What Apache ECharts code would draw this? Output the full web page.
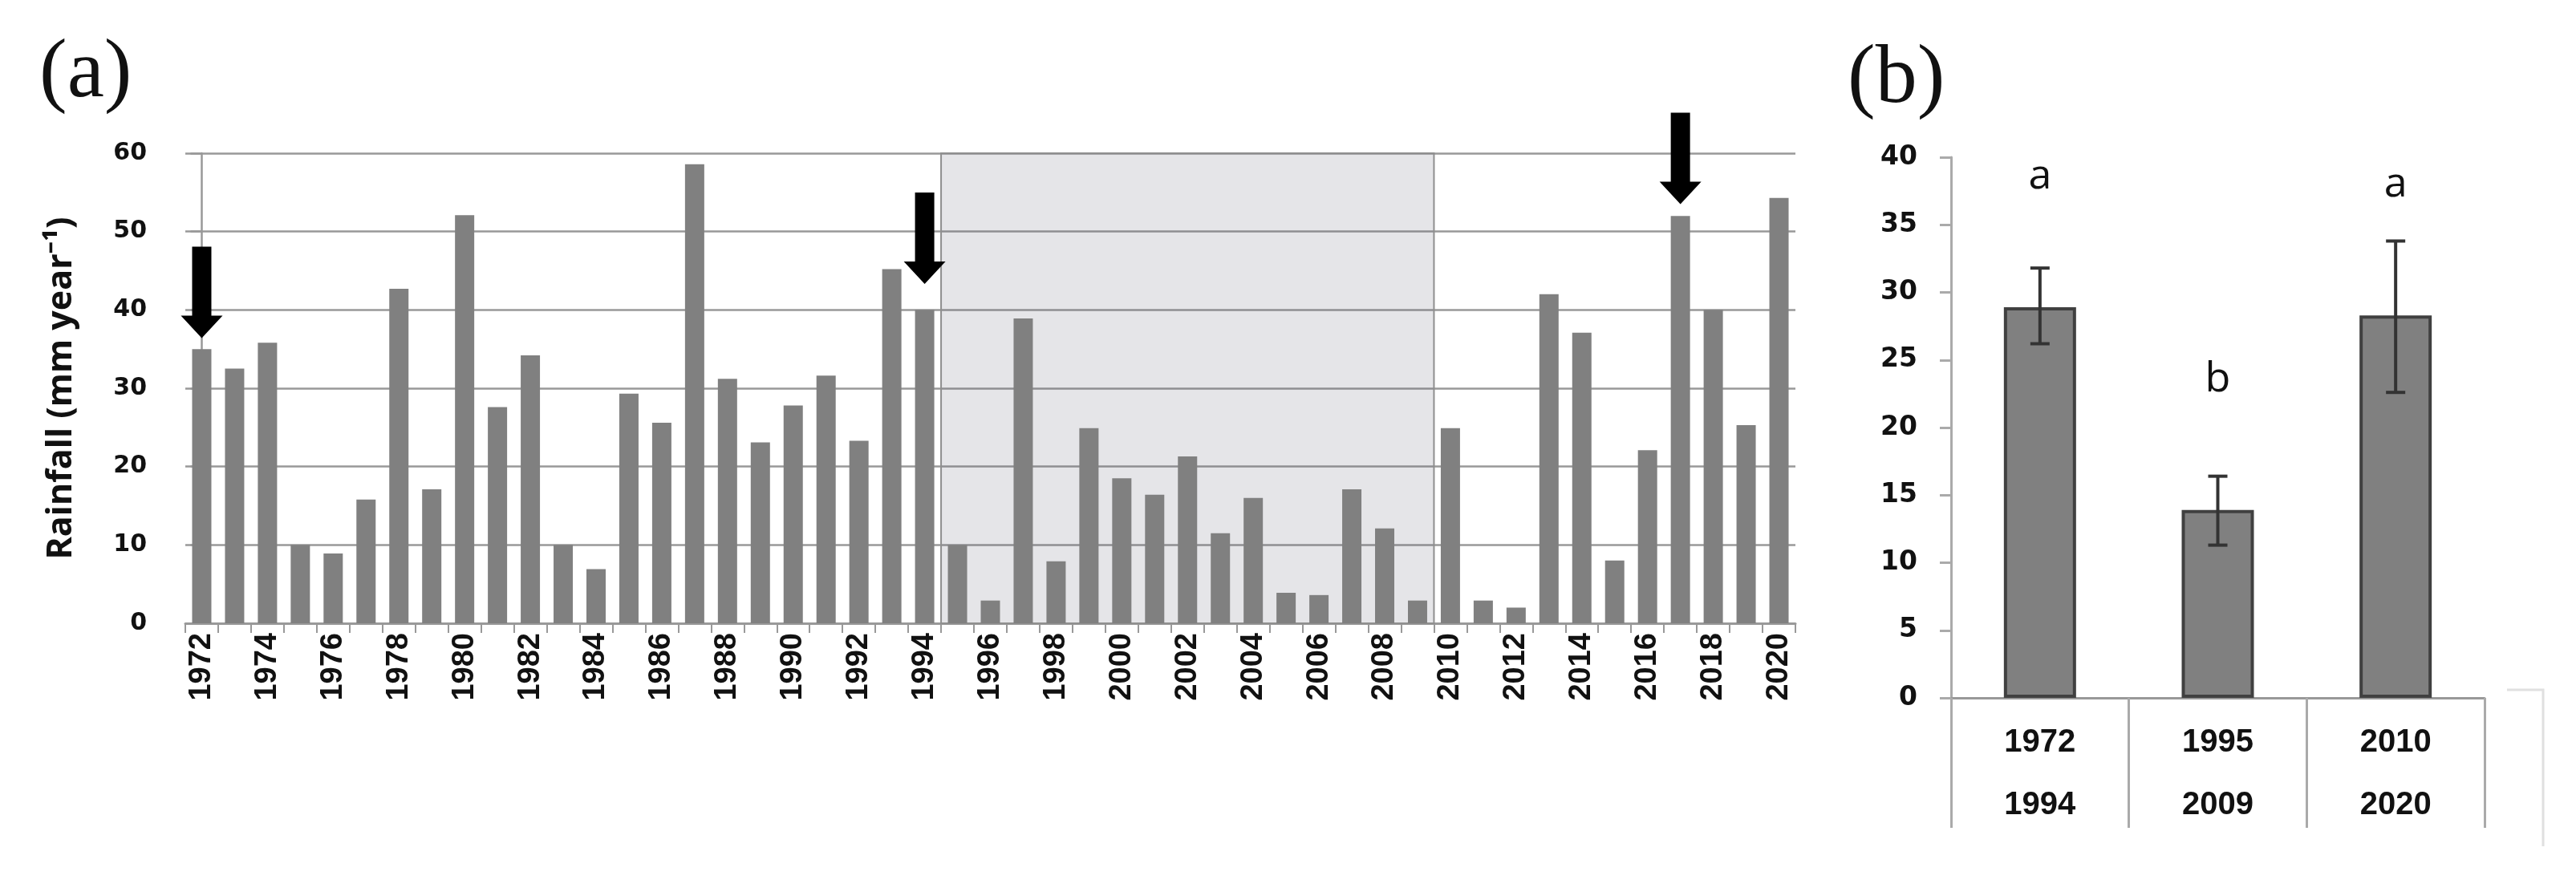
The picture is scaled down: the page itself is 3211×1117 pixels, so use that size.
<!DOCTYPE html>
<html>
<head>
<meta charset="utf-8">
<script src="https://cdn.jsdelivr.net/npm/echarts@6/dist/echarts.min.js"></script>
<style>
  html, body { margin: 0; padding: 0; background: #fff; }
  #main { width: 3211px; height: 1117px; }
</style>
</head>
<body>
<div id="main"></div>
<script>
// (a) annual rainfall ------------------------------------------------------------
var years = ['1972', '1973', '1974', '1975', '1976', '1977', '1978', '1979', '1980', '1981',
    '1982', '1983', '1984', '1985', '1986', '1987', '1988', '1989', '1990', '1991',
    '1992', '1993', '1994', '1995', '1996', '1997', '1998', '1999', '2000', '2001',
    '2002', '2003', '2004', '2005', '2006', '2007', '2008', '2009', '2010', '2011',
    '2012', '2013', '2014', '2015', '2016', '2017', '2018', '2019', '2020'];
var rainfall = [35.0, 32.5, 35.8, 10.0, 8.9, 15.8, 42.7, 17.1, 52.1, 27.6,
    34.2, 10.0, 6.9, 29.3, 25.6, 58.6, 31.2, 23.1, 27.8, 31.6,
    23.3, 45.2, 40.0, 10.0, 2.9, 38.9, 7.9, 24.9, 18.5, 16.4,
    21.3, 11.5, 16.0, 3.9, 3.6, 17.1, 12.1, 2.9, 24.9, 2.9,
    2.0, 42.0, 37.1, 8.0, 22.1, 52.0, 40.0, 25.3, 54.3];
var dryFrom = '1995';
var dryTo = '2009';
var arrowYears = ['1972', '1994', '2017'];
var arrowTips = [36.4, 43.3, 53.5];

// (b) period means ----------------------------------------------------------------
var periods = ['1972\n1994', '1995\n2009', '2010\n2020'];
var periodMean = [28.9, 13.9, 28.3];
var periodLow = [26.2, 11.3, 22.6];
var periodHigh = [31.8, 16.4, 33.8];
var periodLetters = ['a', 'b', 'a'];

var axisGrey = '#999999';
var barGrey = '#808080';

var myChart = echarts.init(document.getElementById('main'));

var option = {
    animation: false,
    backgroundColor: '#ffffff',
    title: [
        {
            text: '(a)', left: 44, top: 36,
            textStyle: { fontFamily: 'Liberation Serif', fontSize: 104, fontWeight: 'normal', color: '#111' }
        },
        {
            text: '(b)', left: 2298, top: 43,
            textStyle: { fontFamily: 'Liberation Serif', fontSize: 104, fontWeight: 'normal', color: '#111' }
        }
    ],
    grid: [
        { left: 231, top: 191, width: 2007, height: 586 },
        { left: 2432, top: 196, width: 665, height: 674 }
    ],
    xAxis: [
        {
            type: 'category', gridIndex: 0, data: years,
            axisLine: { lineStyle: { color: axisGrey, width: 3 } },
            axisTick: { show: true, interval: 0, length: 12, lineStyle: { color: axisGrey, width: 2 } },
            axisLabel: {
                interval: 1, rotate: 90, margin: 12,
                fontFamily: 'Liberation Sans', fontWeight: 'bold', fontSize: 38, color: '#111'
            }
        },
        // hidden index axis so the shaded period covers whole bands
        {
            type: 'value', gridIndex: 0, show: false,
            min: -0.5, max: years.length - 0.5
        },
        {
            type: 'category', gridIndex: 1, data: periods,
            axisLine: { lineStyle: { color: axisGrey, width: 3 } },
            axisTick: { show: true, interval: 0, length: 162, lineStyle: { color: '#aaaaaa', width: 3 } },
            axisLabel: {
                margin: 17, lineHeight: 78,
                fontFamily: 'Liberation Sans', fontWeight: 'bold', fontSize: 40, color: '#111'
            }
        }
    ],
    yAxis: [
        {
            type: 'value', gridIndex: 0, min: 0, max: 60, interval: 10,
            name: 'Rainfall (mm year\u207B\u00B9)',
            nameLocation: 'middle', nameRotate: 90, nameGap: 133,
            nameTextStyle: { fontFamily: 'Open Sans', fontWeight: 'bold', fontSize: 43, color: '#111' },
            axisLine: { show: true, lineStyle: { color: axisGrey, width: 2.5 } },
            axisTick: { show: true, length: 14, lineStyle: { color: axisGrey, width: 2.5 } },
            splitLine: { lineStyle: { color: axisGrey, width: 2.5 } },
            axisLabel: { margin: 48, fontFamily: 'DejaVu Sans', fontWeight: 'bold', fontSize: 30, color: '#111' }
        },
        {
            type: 'value', gridIndex: 1, min: 0, max: 40, interval: 5,
            axisLine: { show: true, lineStyle: { color: '#aaaaaa', width: 3 } },
            axisTick: { show: true, length: 14, lineStyle: { color: '#aaaaaa', width: 3 } },
            splitLine: { show: false },
            axisLabel: { margin: 42, fontFamily: 'DejaVu Sans', fontWeight: 'bold', fontSize: 33, color: '#111' }
        }
    ],
    series: [
        {
            type: 'bar', xAxisIndex: 0, yAxisIndex: 0,
            data: rainfall, barWidth: 24,
            itemStyle: { color: barGrey }
        },
        {
            // shaded 1995-2009 period drawn over the bars
            type: 'line', xAxisIndex: 1, yAxisIndex: 0, z: 5,
            data: [[years.indexOf(dryFrom), 0]],
            showSymbol: false, lineStyle: { opacity: 0 },
            markArea: {
                silent: true,
                itemStyle: { color: 'rgba(100,100,115,0.165)', borderColor: '#8f8f8f', borderWidth: 2 },
                data: [[
                    { xAxis: years.indexOf(dryFrom) - 0.5, yAxis: 0 },
                    { xAxis: years.indexOf(dryTo) + 0.5, yAxis: 60 }
                ]]
            }
        },
        {
            type: 'scatter', xAxisIndex: 0, yAxisIndex: 0, z: 10,
            data: arrowYears.map(function (y, i) { return [y, arrowTips[i]]; }),
            symbol: 'path://M14,0 L38,0 L38,86 L52,86 L26,114 L0,86 L14,86 Z',
            symbolSize: [52, 114],
            symbolOffset: [0, '-50%'],
            itemStyle: { color: '#000', opacity: 1 }
        },
        {
            type: 'bar', xAxisIndex: 2, yAxisIndex: 1,
            data: periodMean, barWidth: 90,
            itemStyle: { color: barGrey, borderColor: '#404040', borderWidth: 4 },
            label: {
                show: true, position: 'top', distance: 137,
                formatter: function (p) { return periodLetters[p.dataIndex]; },
                fontFamily: 'Open Sans', fontSize: 52, lineHeight: 52, color: '#111'
            }
        },
        {
            type: 'custom', xAxisIndex: 2, yAxisIndex: 1, z: 10,
            data: periods.map(function (p, i) { return [i, periodLow[i], periodHigh[i]]; }),
            renderItem: function (params, api) {
                var lo = api.coord([api.value(0), api.value(1)]);
                var hi = api.coord([api.value(0), api.value(2)]);
                var half = 12;
                var st = { stroke: '#333', lineWidth: 4 };
                return {
                    type: 'group',
                    children: [
                        { type: 'line', shape: { x1: hi[0], y1: hi[1], x2: lo[0], y2: lo[1] }, style: st },
                        { type: 'line', shape: { x1: hi[0] - half, y1: hi[1], x2: hi[0] + half, y2: hi[1] }, style: st },
                        { type: 'line', shape: { x1: lo[0] - half, y1: lo[1], x2: lo[0] + half, y2: lo[1] }, style: st }
                    ]
                };
            }
        }
    ],
    graphic: [
        {
            // stray table border at the right of panel (b)
            type: 'polyline', silent: true,
            shape: { points: [[3125, 860], [3170, 860], [3170, 1055]] },
            style: { fill: null, stroke: '#e0e0e0', lineWidth: 3 }
        }
    ]
};

option && myChart.setOption(option);
</script>
</body>
</html>
